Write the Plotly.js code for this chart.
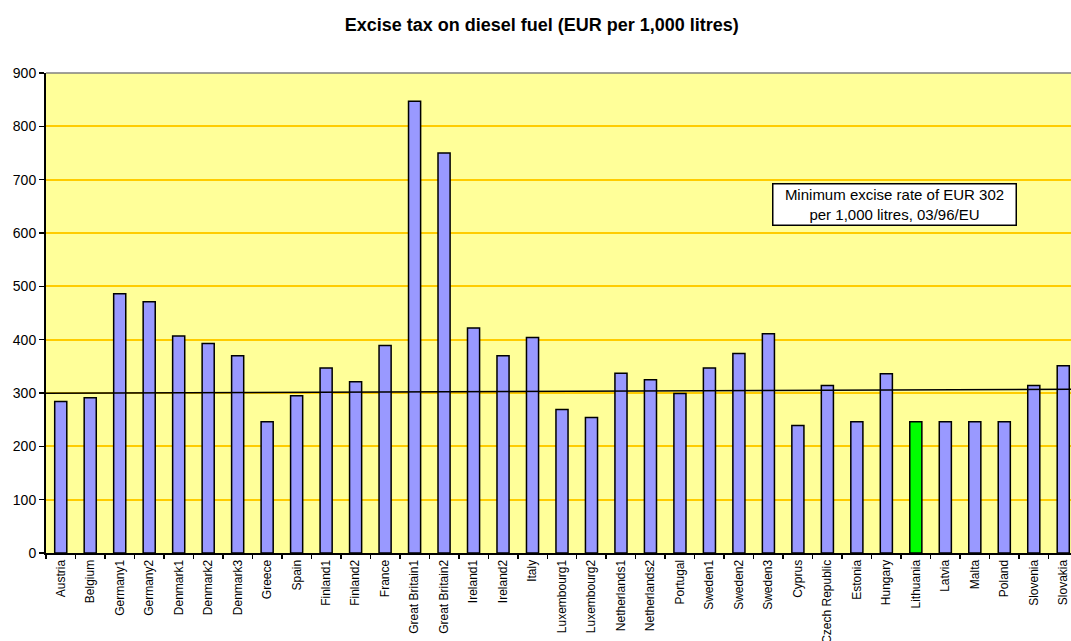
<!DOCTYPE html>
<html>
<head>
<meta charset="utf-8">
<script src="https://cdn.plot.ly/plotly-3.0.1.min.js"></script>
<style>
  html, body { margin: 0; padding: 0; overflow: hidden; background: #ffffff; }
  #chart { width: 1090px; height: 641px; }
</style>
</head>
<body>
<div id="chart"></div>
<script>
// Excise tax on diesel fuel, EUR per 1,000 litres
const countries = [
  "Austria", "Belgium", "Germany1", "Germany2", "Denmark1", "Denmark2", "Denmark3",
  "Greece", "Spain", "Finland1", "Finland2", "France", "Great Britain1", "Great Britain2",
  "Ireland1", "Ireland2", "Italy", "Luxembourg1", "Luxembourg2", "Netherlands1",
  "Netherlands2", "Portugal", "Sweden1", "Sweden2", "Sweden3", "Cyprus", "Czech Republic",
  "Estonia", "Hungary", "Lithuania", "Latvia", "Malta", "Poland", "Slovenia", "Slovakia"
];
const exciseRates = [
  284, 291, 486, 471, 407, 393, 370,
  246, 295, 347, 321, 389, 847, 750,
  422, 370, 404, 269, 254, 337,
  325, 299, 347, 374, 411, 239, 314,
  246, 336, 246, 246, 246, 246, 314, 351
];
const highlighted = "Lithuania";

// Reference line for the EU minimum rate (left and right ends)
const minimumLine = [299.5, 307];
const minimumLabel = "Minimum excise rate of EUR 302<br>per 1,000 litres, 03/96/EU";

const yTicks = [0, 100, 200, 300, 400, 500, 600, 700, 800, 900];

const barColors = countries.map(c => c === highlighted ? "#00FF00" : "#9999FF");

const trace = {
  type: "bar",
  x: countries,
  y: exciseRates,
  marker: { color: barColors, line: { color: "#000000", width: 1.5 } },
  hoverinfo: "x+y"
};

const layout = {
  width: 1090,
  height: 641,
  paper_bgcolor: "#ffffff",
  plot_bgcolor: "#FFFF99",
  margin: { l: 46, r: 12, t: 73, b: 88 },
  bargap: 0.59,
  showlegend: false,
  font: { family: "Liberation Sans, Arial, sans-serif", color: "#000000" },
  title: {
    text: "<b>Excise tax on diesel fuel (EUR per 1,000 litres)</b>",
    font: { size: 18, family: "Liberation Sans, Arial, sans-serif", color: "#000000" },
    xref: "container", x: 0.497, xanchor: "center",
    yref: "container", y: 0.962, yanchor: "middle"
  },
  xaxis: {
    type: "category",
    tickangle: -90,
    tickfont: { size: 12 },
    ticks: "outside",
    tickson: "boundaries",
    ticklen: 4,
    tickwidth: 1.5,
    tickcolor: "#000000",
    showline: true,
    linecolor: "#000000",
    linewidth: 2,
    showgrid: false,
    automargin: false,
    range: [-0.5, 34.5]
  },
  yaxis: {
    range: [0, 900],
    tickvals: yTicks,
    ticktext: yTicks.map(String),
    tickfont: { size: 14 },
    ticks: "outside",
    ticklen: 5,
    tickwidth: 1.5,
    tickcolor: "#000000",
    showline: true,
    linecolor: "#000000",
    linewidth: 2,
    showgrid: true,
    gridcolor: "#FFCC00",
    gridwidth: 2,
    zeroline: false,
    automargin: false
  },
  shapes: [
    {
      type: "line", xref: "paper", yref: "paper",
      x0: 0, x1: 1, y0: 1, y1: 1,
      line: { color: "#808080", width: 1.5 }
    },
    {
      type: "line", xref: "paper", yref: "y",
      x0: 0, x1: 1, y0: minimumLine[0], y1: minimumLine[1],
      line: { color: "#000000", width: 1.5 }
    }
  ],
  annotations: [
    {
      text: minimumLabel,
      xref: "paper", yref: "y",
      x: 0.822, y: 654,
      xanchor: "center", yanchor: "middle",
      showarrow: false,
      align: "center",
      font: { size: 15, color: "#000000" },
      bgcolor: "#ffffff",
      bordercolor: "#000000",
      borderwidth: 1.5,
      borderpad: 1,
      width: 240,
      height: 38
    }
  ]
};

Plotly.newPlot("chart", [trace], layout, { displayModeBar: false, staticPlot: true });
</script>
</body>
</html>
